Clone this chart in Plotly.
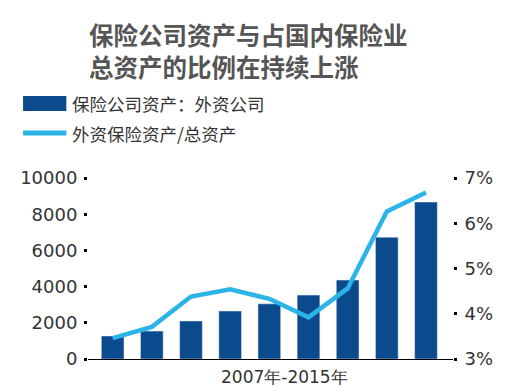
import plotly.graph_objects as go

years = ["2007", "2008", "2009", "2010", "2011", "2012", "2013", "2014", "2015"]
assets = [1270, 1545, 2100, 2650, 3050, 3530, 4360, 6730, 8670]
share = [3.46, 3.71, 4.38, 4.54, 4.33, 3.92, 4.56, 6.26, 6.68]

left_ticks = [0, 2000, 4000, 6000, 8000, 10000]
right_ticks = [3, 4, 5, 6, 7]
right_labels = ["3%", "4%", "5%", "6%", "7%"]

title_text = "保险公司资产与占国内保险业<br>总资产的比例在持续上涨"
bar_name = "保险公司资产：外资公司"
line_name = "外资保险资产/总资产"
x_title = "2007年-2015年"

BAR_COLOR = "#0b4a8c"
LINE_COLOR = "#2bb4e8"
TEXT = "#333333"
FONT = "Noto Sans CJK SC"
NUM_FONT = "DejaVu Sans"

# page body adds an 8px margin; build figure so that window pixels match
OFF = 8
W, H = 529 - OFF, 392 - OFF
X0, X1, Y0, Y1 = 82, 453, 178, 359   # plot area in window pixels
L, R, T, B = X0 - OFF, W - (X1 - OFF), Y0 - OFF, H - (Y1 - OFF)
PW, PH = W - L - R, H - T - B


def px(x):
    return (x - X0) / PW


def py(y):
    return (Y1 - y) / PH


fig = go.Figure()
fig.add_trace(go.Bar(x=years, y=assets, marker_color=BAR_COLOR, width=0.58,
                     name=bar_name, yaxis="y"))
fig.add_trace(go.Scatter(x=years, y=share, mode="lines", name=line_name,
                         line=dict(color=LINE_COLOR, width=4.5), yaxis="y2",
                         cliponaxis=False))

fig.update_layout(
    width=W, height=H,
    margin=dict(l=L, r=R, t=T, b=B),
    paper_bgcolor="white", plot_bgcolor="white",
    showlegend=False,
    font=dict(family=FONT, color=TEXT),
    xaxis=dict(type="category", range=[-0.63, 8.69], showticklabels=False,
               showgrid=False, zeroline=False, showline=True,
               linecolor="black", linewidth=1.3, ticks=""),
    yaxis=dict(range=[0, 10000], tickvals=left_ticks,
               ticktext=[str(v) for v in left_ticks],
               showgrid=False, zeroline=False, showline=False,
               ticks="outside", ticklen=3, tickwidth=3, tickcolor="black",
               ticklabelstandoff=3,
               tickfont=dict(family=NUM_FONT, size=18, color=TEXT)),
    yaxis2=dict(range=[3, 7], overlaying="y", side="right",
                tickvals=right_ticks, ticktext=right_labels,
                showgrid=False, zeroline=False, showline=False,
                ticks="outside", ticklen=3, tickwidth=3, tickcolor="black",
                ticklabelstandoff=4,
                tickfont=dict(family=NUM_FONT, size=18, color=TEXT)),
)

shapes = [
    dict(type="rect", xref="paper", yref="paper",
         x0=px(16), x1=px(60), y0=py(111), y1=py(96),
         fillcolor=BAR_COLOR, line=dict(width=0)),
    dict(type="line", xref="paper", yref="paper",
         x0=px(16), x1=px(60), y0=py(133), y1=py(133),
         line=dict(color=LINE_COLOR, width=5)),
]
annotations = [
    dict(text=title_text, xref="paper", yref="paper", x=px(81), y=py(50),
         xanchor="left", yanchor="middle", align="left", showarrow=False,
         font=dict(family=FONT, size=24.5, color="#555555", weight="bold")),
    dict(text=bar_name, xref="paper", yref="paper", x=px(64), y=py(103),
         xanchor="left", yanchor="middle", showarrow=False,
         font=dict(family=FONT, size=17.5, color=TEXT)),
    dict(text=line_name, xref="paper", yref="paper", x=px(64), y=py(133),
         xanchor="left", yanchor="middle", showarrow=False,
         font=dict(family=FONT, size=17.5, color=TEXT)),
    dict(text=x_title, xref="paper", yref="paper", x=px(282), y=py(377),
         xanchor="center", yanchor="middle", showarrow=False,
         font=dict(family=NUM_FONT, size=17, color=TEXT)),
]
fig.update_layout(shapes=shapes, annotations=annotations)

fig.write_html("out.html")
